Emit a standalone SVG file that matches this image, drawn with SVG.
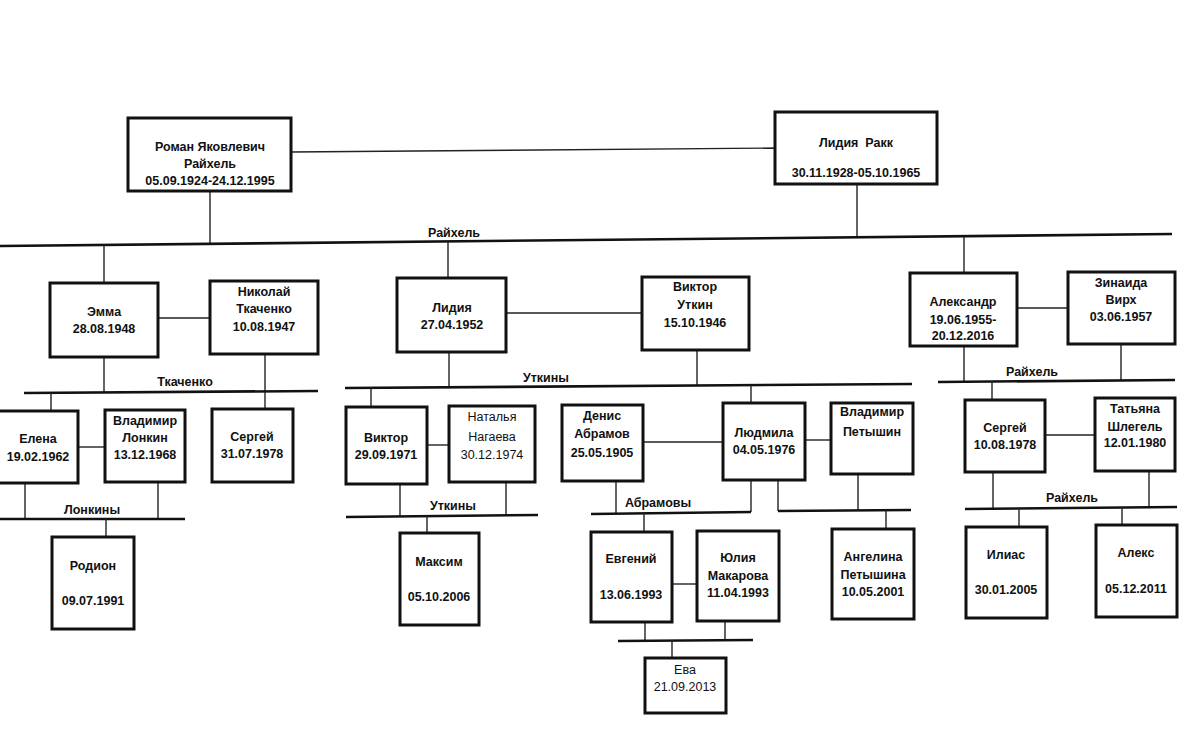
<svg xmlns="http://www.w3.org/2000/svg" width="1200" height="738" viewBox="0 0 1200 738">
<style>
.box{fill:#fff;stroke:#111;stroke-width:3}
.c{stroke:#222;stroke-width:1.4;fill:none}
.fam{stroke:#111;stroke-width:2.6;fill:none}
text{font-family:"Liberation Sans","DejaVu Sans",sans-serif;font-size:12.5px;font-weight:bold;fill:#111;text-anchor:middle}
.n{font-weight:normal}
</style>
<rect width="1200" height="738" fill="#fff"/>
<g id="connectors">
<line class="c" x1="291" y1="152" x2="775" y2="148"/>
<line class="c" x1="210" y1="191" x2="210" y2="244"/>
<line class="c" x1="857" y1="184" x2="857" y2="236"/>
<line class="fam" x1="0" y1="246" x2="1172" y2="234"/>
<line class="c" x1="104" y1="245" x2="104" y2="283"/>
<line class="c" x1="448" y1="242" x2="448" y2="278"/>
<line class="c" x1="964" y1="237" x2="964" y2="273"/>
<line class="c" x1="158" y1="318" x2="210" y2="318"/>
<line class="c" x1="104" y1="357" x2="104" y2="393"/>
<line class="c" x1="265" y1="354" x2="265" y2="392"/>
<line class="fam" x1="24" y1="393" x2="318" y2="391"/>
<line class="c" x1="51" y1="393" x2="51" y2="411"/>
<line class="c" x1="265" y1="392" x2="265" y2="409"/>
<line class="c" x1="78" y1="447" x2="105" y2="447"/>
<line class="c" x1="25" y1="483" x2="25" y2="519"/>
<line class="c" x1="158" y1="482" x2="158" y2="519"/>
<line class="fam" x1="0" y1="519" x2="185" y2="519"/>
<line class="c" x1="106" y1="519" x2="106" y2="537"/>
<line class="c" x1="506" y1="313" x2="642" y2="313"/>
<line class="c" x1="449" y1="352" x2="449" y2="387"/>
<line class="c" x1="697" y1="350" x2="697" y2="386"/>
<line class="fam" x1="345" y1="388" x2="912" y2="384"/>
<line class="c" x1="371" y1="387" x2="371" y2="407"/>
<line class="c" x1="751" y1="385" x2="751" y2="403"/>
<line class="c" x1="427" y1="445" x2="449" y2="445"/>
<line class="c" x1="400" y1="484" x2="400" y2="516"/>
<line class="c" x1="506" y1="482" x2="506" y2="516"/>
<line class="fam" x1="346" y1="517" x2="538" y2="515"/>
<line class="c" x1="427" y1="516" x2="427" y2="533"/>
<line class="c" x1="643" y1="442" x2="723" y2="442"/>
<line class="c" x1="805" y1="440" x2="831" y2="440"/>
<line class="c" x1="616" y1="481" x2="616" y2="513"/>
<line class="c" x1="751" y1="480" x2="751" y2="512"/>
<line class="fam" x1="591" y1="514" x2="751" y2="512"/>
<line class="c" x1="778" y1="480" x2="778" y2="511"/>
<line class="c" x1="858" y1="474" x2="858" y2="511"/>
<line class="fam" x1="778" y1="511" x2="911" y2="510"/>
<line class="c" x1="886" y1="510" x2="886" y2="529"/>
<line class="c" x1="644" y1="513" x2="644" y2="532"/>
<line class="c" x1="672" y1="584" x2="697" y2="584"/>
<line class="c" x1="645" y1="622" x2="645" y2="640"/>
<line class="c" x1="725" y1="621" x2="725" y2="640"/>
<line class="fam" x1="618" y1="641" x2="753" y2="640"/>
<line class="c" x1="672" y1="640" x2="672" y2="658"/>
<line class="c" x1="1017" y1="308" x2="1068" y2="308"/>
<line class="c" x1="964" y1="346" x2="964" y2="381"/>
<line class="c" x1="1121" y1="344" x2="1121" y2="381"/>
<line class="fam" x1="938" y1="382" x2="1175" y2="380"/>
<line class="c" x1="992" y1="381" x2="992" y2="400"/>
<line class="c" x1="1045" y1="435" x2="1095" y2="435"/>
<line class="c" x1="993" y1="472" x2="993" y2="508"/>
<line class="c" x1="1149" y1="471" x2="1149" y2="508"/>
<line class="fam" x1="965" y1="509" x2="1177" y2="507"/>
<line class="c" x1="1019" y1="508" x2="1019" y2="527"/>
<line class="c" x1="1122" y1="508" x2="1122" y2="525"/>
<text x="454" y="237">Райхель</text>
<text x="185" y="386">Ткаченко</text>
<text x="92" y="514">Лонкины</text>
<text x="546" y="382">Уткины</text>
<text x="453" y="510">Уткины</text>
<text x="658" y="507">Абрамовы</text>
<text x="1032" y="376">Райхель</text>
<text x="1072" y="502">Райхель</text>
</g>
<g id="roman"><rect class="box" x="128" y="118" width="163" height="73"/><text x="210" y="151">Роман Яковлевич</text><text x="210" y="168">Райхель</text><text x="210" y="185">05.09.1924-24.12.1995</text></g>
<g id="lidia-rakk"><rect class="box" x="775" y="112" width="162" height="72"/><text x="856" y="147">Лидия&#160; Ракк</text><text x="856" y="177">30.11.1928-05.10.1965</text></g>
<g id="emma"><rect class="box" x="50" y="283" width="108" height="74"/><text x="104" y="316">Эмма</text><text x="104" y="333">28.08.1948</text></g>
<g id="nikolai"><rect class="box" x="210" y="281" width="108" height="73"/><text x="264" y="296">Николай</text><text x="264" y="313">Ткаченко</text><text x="264" y="331">10.08.1947</text></g>
<g id="elena"><rect class="box" x="-5" y="411" width="83" height="72"/><text x="38" y="443">Елена</text><text x="38" y="461">19.02.1962</text></g>
<g id="vladimir-lonkin"><rect class="box" x="105" y="410" width="80" height="72"/><text x="145" y="425">Владимир</text><text x="145" y="442">Лонкин</text><text x="145" y="459">13.12.1968</text></g>
<g id="sergei-tkachenko"><rect class="box" x="212" y="409" width="81" height="73"/><text x="252" y="441">Сергей</text><text x="252" y="458">31.07.1978</text></g>
<g id="rodion"><rect class="box" x="52" y="537" width="82" height="92"/><text x="93" y="570">Родион</text><text x="93" y="605">09.07.1991</text></g>
<g id="lidia"><rect class="box" x="397" y="278" width="109" height="74"/><text x="452" y="312">Лидия</text><text x="452" y="329">27.04.1952</text></g>
<g id="viktor-utkin"><rect class="box" x="642" y="277" width="107" height="73"/><text x="695" y="291">Виктор</text><text x="695" y="309">Уткин</text><text x="695" y="327">15.10.1946</text></g>
<g id="viktor"><rect class="box" x="346" y="407" width="81" height="77"/><text x="386" y="442">Виктор</text><text x="386" y="459">29.09.1971</text></g>
<g id="natalya"><rect class="box" x="449" y="406" width="86" height="76"/><text class="n" x="492" y="421">Наталья</text><text class="n" x="492" y="441">Нагаева</text><text class="n" x="492" y="459">30.12.1974</text></g>
<g id="maksim"><rect class="box" x="400" y="533" width="79" height="92"/><text x="439" y="566">Максим</text><text x="439" y="601">05.10.2006</text></g>
<g id="denis"><rect class="box" x="562" y="405" width="81" height="76"/><text x="602" y="420">Денис</text><text x="602" y="438">Абрамов</text><text x="602" y="457">25.05.1905</text></g>
<g id="lyudmila"><rect class="box" x="723" y="403" width="82" height="77"/><text x="764" y="437">Людмила</text><text x="764" y="454">04.05.1976</text></g>
<g id="vladimir-petyshin"><rect class="box" x="831" y="403" width="82" height="71"/><text x="872" y="416">Владимир</text><text x="872" y="436">Петышин</text></g>
<g id="evgeny"><rect class="box" x="591" y="532" width="81" height="90"/><text x="631" y="563">Евгений</text><text x="631" y="599">13.06.1993</text></g>
<g id="yulia"><rect class="box" x="697" y="531" width="82" height="90"/><text x="738" y="562">Юлия</text><text x="738" y="580">Макарова</text><text x="738" y="597">11.04.1993</text></g>
<g id="eva"><rect class="box" x="645" y="658" width="81" height="55"/><text class="n" x="685" y="674">Ева</text><text class="n" x="685" y="691">21.09.2013</text></g>
<g id="angelina"><rect class="box" x="832" y="529" width="82" height="90"/><text x="873" y="561">Ангелина</text><text x="873" y="579">Петышина</text><text x="873" y="596">10.05.2001</text></g>
<g id="aleksandr"><rect class="box" x="910" y="273" width="107" height="73"/><text x="963" y="306">Александр</text><text x="963" y="324">19.06.1955-</text><text x="963" y="340">20.12.2016</text></g>
<g id="zinaida"><rect class="box" x="1068" y="272" width="107" height="72"/><text x="1121" y="287">Зинаида</text><text x="1121" y="304">Вирх</text><text x="1121" y="321">03.06.1957</text></g>
<g id="sergei-raikhel"><rect class="box" x="965" y="400" width="80" height="72"/><text x="1005" y="432">Сергей</text><text x="1005" y="449">10.08.1978</text></g>
<g id="tatyana"><rect class="box" x="1095" y="398" width="80" height="73"/><text x="1135" y="413">Татьяна</text><text x="1135" y="431">Шлегель</text><text x="1135" y="447">12.01.1980</text></g>
<g id="ilias"><rect class="box" x="966" y="527" width="81" height="91"/><text x="1006" y="559">Илиас</text><text x="1006" y="594">30.01.2005</text></g>
<g id="aleks"><rect class="box" x="1096" y="525" width="81" height="92"/><text x="1136" y="557">Алекс</text><text x="1136" y="593">05.12.2011</text></g>
</svg>
